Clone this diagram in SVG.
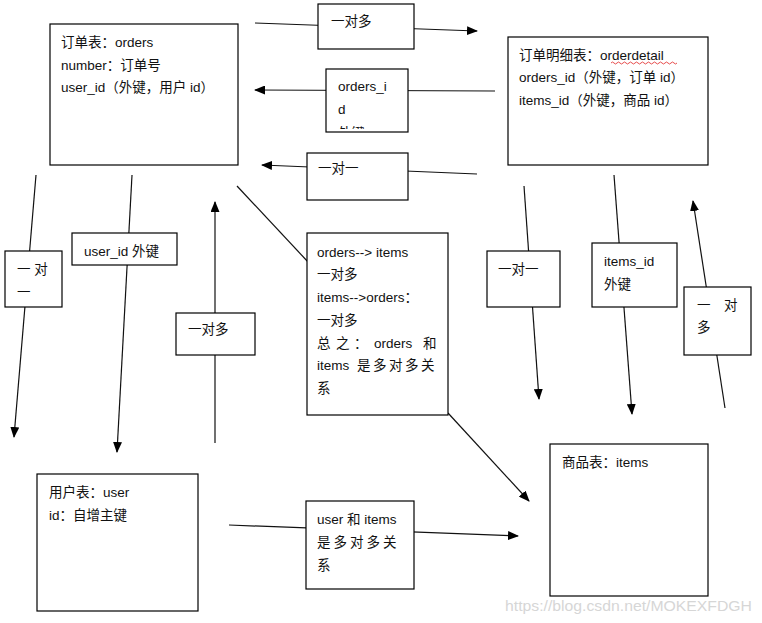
<svg xmlns="http://www.w3.org/2000/svg" width="762" height="623" viewBox="0 0 762 623">
<style>
.box{fill:#fff;stroke:#000;stroke-width:1.2}
.t{font-family:"Liberation Sans","Noto Sans CJK SC",sans-serif;font-size:13.5px;fill:#111}
.c{stroke:#111;stroke-width:1.2;fill:none}
.wm{font-family:"Liberation Sans","Noto Sans",sans-serif;font-size:15px;fill:#d6d6d6}
</style>
<defs>
<marker id="ah" markerUnits="userSpaceOnUse" markerWidth="11" markerHeight="9" refX="10" refY="4.5" orient="auto">
<path d="M0,0 L11,4.5 L0,9 z" fill="#000"/>
</marker>
<clipPath id="clipOid"><rect x="326" y="69" width="82" height="60"/></clipPath>
</defs>
<rect width="762" height="623" fill="#fff"/>
<g id="connectors">
<line class="c" x1="255" y1="23" x2="477" y2="31" marker-end="url(#ah)"/>
<line class="c" x1="495" y1="91" x2="255" y2="90" marker-end="url(#ah)"/>
<line class="c" x1="477" y1="174" x2="262" y2="165" marker-end="url(#ah)"/>
<line class="c" x1="36" y1="175" x2="14" y2="437" marker-end="url(#ah)"/>
<line class="c" x1="132" y1="175" x2="117" y2="452" marker-end="url(#ah)"/>
<line class="c" x1="215" y1="443" x2="215" y2="202" marker-end="url(#ah)"/>
<line class="c" x1="237" y1="186" x2="309" y2="263"/>
<line class="c" x1="448" y1="413" x2="529" y2="501" marker-end="url(#ah)"/>
<line class="c" x1="524" y1="186" x2="539" y2="399" marker-end="url(#ah)"/>
<line class="c" x1="614" y1="175" x2="632" y2="414" marker-end="url(#ah)"/>
<line class="c" x1="725" y1="408" x2="693" y2="201" marker-end="url(#ah)"/>
<line class="c" x1="229" y1="525" x2="518" y2="536" marker-end="url(#ah)"/>
</g>
<g id="orders">
<rect class="box" x="50" y="24" width="188" height="141"/>
<text class="t" x="61" y="47">订单表：orders</text>
<text class="t" x="61" y="70">number：订单号</text>
<text class="t" x="61" y="92">user_id（外键，用户 id）</text>
</g>
<g id="orderdetail">
<rect class="box" x="508" y="37" width="200" height="128"/>
<text class="t" x="519" y="60">订单明细表：orderdetail</text>
<path d="M611,63 q1.5,-2 3,0 t3,0 t3,0 t3,0 t3,0 t3,0 t3,0 t3,0 t3,0 t3,0 t3,0 t3,0 t3,0 t3,0 t3,0 t3,0 t3,0 t3,0 t3,0 t3,0 t3,0 t3,0" fill="none" stroke="#e02020" stroke-width="0.8"/>
<text class="t" x="519" y="82">orders_id（外键，订单 id）</text>
<text class="t" x="519" y="105">items_id（外键，商品 id）</text>
</g>
<g id="user">
<rect class="box" x="37" y="474" width="161" height="137"/>
<text class="t" x="49" y="497">用户表：user</text>
<text class="t" x="49" y="520">id：自增主键</text>
</g>
<g id="items">
<rect class="box" x="550" y="444" width="158" height="152"/>
<text class="t" x="562" y="467">商品表：items</text>
</g>
<g id="label-top-1toN">
<rect class="box" x="318" y="4" width="96" height="45"/>
<text class="t" x="331" y="26">一对多</text>
</g>
<g id="label-orders-id">
<rect class="box" x="326" y="69" width="82" height="63"/>
<g clip-path="url(#clipOid)">
<text class="t" x="338" y="91">orders_i</text>
<text class="t" x="338" y="114">d</text>
<text class="t" x="338" y="138">外键</text>
</g>
</g>
<g id="label-top-1to1">
<rect class="box" x="307" y="153" width="101" height="47"/>
<text class="t" x="318" y="173">一对一</text>
</g>
<g id="label-left-1to1">
<rect class="box" x="5" y="251" width="57" height="56"/>
<text class="t" x="17" y="274">一  对</text>
<text class="t" x="17" y="297">一</text>
</g>
<g id="label-userid-fk">
<rect class="box" x="72" y="233" width="105" height="32"/>
<text class="t" x="84" y="256">user_id 外键</text>
</g>
<g id="label-left-1toN">
<rect class="box" x="176" y="313" width="79" height="42"/>
<text class="t" x="188" y="334">一对多</text>
</g>
<g id="label-summary">
<rect class="box" x="307" y="233" width="141" height="182"/>
<text class="t" x="317" y="257">orders--&gt; items</text>
<text class="t" x="317" y="279">一对多</text>
<text class="t" x="317" y="302">items--&gt;orders：</text>
<text class="t" x="317" y="325">一对多</text>
<text class="t" y="348"><tspan x="317">总</tspan><tspan x="336">之</tspan><tspan x="354">：</tspan><tspan x="374">orders</tspan><tspan x="423">和</tspan></text>
<text class="t" y="370"><tspan x="317">items</tspan><tspan x="357" letter-spacing="2.5">是多对多关</tspan></text>
<text class="t" x="317" y="393">系</text>
</g>
<g id="label-right-1to1">
<rect class="box" x="487" y="251" width="73" height="56"/>
<text class="t" x="498" y="274">一对一</text>
</g>
<g id="label-itemsid-fk">
<rect class="box" x="592" y="243" width="85" height="64"/>
<text class="t" x="604" y="266">items_id</text>
<text class="t" x="604" y="289">外键</text>
</g>
<g id="label-right-1toN">
<rect class="box" x="684" y="287" width="67" height="68"/>
<text class="t" x="697" y="310">一</text>
<text class="t" x="724" y="310">对</text>
<text class="t" x="697" y="332">多</text>
</g>
<g id="label-user-items">
<rect class="box" x="306" y="501" width="108" height="88"/>
<text class="t" x="317" y="524">user 和 items</text>
<text class="t" x="317" y="547" letter-spacing="3">是多对多关</text>
<text class="t" x="317" y="570">系</text>
</g>
<text class="wm" x="505" y="611" textLength="247" lengthAdjust="spacingAndGlyphs">https://blog.csdn.net/MOKEXFDGH</text>
</svg>
